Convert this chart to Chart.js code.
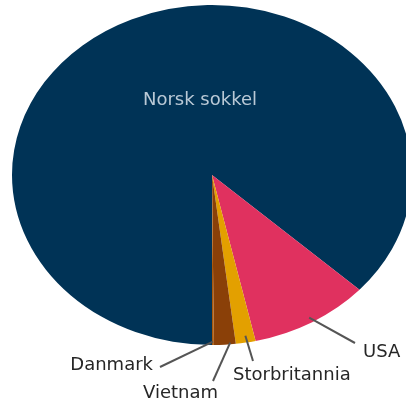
<!DOCTYPE html>
<html>

<head>
    <script src="https://cdn.jsdelivr.net/npm/chart.js@4.4.0/dist/chart.umd.min.js"></script>
    <style>
        html, body { margin: 0; padding: 0; background: #fff; }
        #wrap { width: 406px; height: 406px; }
    </style>
</head>

<body>
    <div id="wrap">
        <canvas id="myChart" width="406" height="406"></canvas>
    </div>
</body>

<script>

    // data
    const categories = ['Norsk sokkel', 'USA', 'Storbritannia', 'Vietnam', 'Danmark']
    const shares = [86.8, 9.7, 1.6, 1.75, 0.15]
    const colors = ['#003356', '#e0315f', '#e3a000', '#8a4008', '#a8580c']

    // label placement (text anchor, leader end, where the leader starts inside the slice)
    const labelLayout = [
        { x: 200, y: 105, align: 'center', color: '#b9c9d6' },
        { x: 363, y: 357, align: 'left', color: '#262626', t: 0.5, r: 0.97, end: [355, 343] },
        { x: 233, y: 380, align: 'left', color: '#262626', t: 0.45, r: 0.96, end: [253, 361] },
        { x: 143, y: 398, align: 'left', color: '#262626', t: 0.25, r: 0.99, end: [213, 381] },
        { x: 153, y: 370, align: 'right', color: '#262626', t: 0.5, r: 0.98, end: [160, 367] }
    ]

    const stretchX = 200 / 170 // the pie is an ellipse, wider than tall

    const stretchPlugin = {
        id: 'stretch',
        beforeDatasetsDraw(chart) {
            const arc = chart.getDatasetMeta(0).data[0]
            const ctx = chart.ctx
            ctx.save()
            ctx.translate(arc.x, 0)
            ctx.scale(stretchX, 1)
            ctx.translate(-arc.x, 0)
        },
        afterDatasetsDraw(chart) {
            chart.ctx.restore()
        }
    }

    const labelPlugin = {
        id: 'sliceLabels',
        afterDraw(chart) {
            const ctx = chart.ctx
            const arcs = chart.getDatasetMeta(0).data
            ctx.save()
            ctx.font = '18px "DejaVu Sans"'
            ctx.textBaseline = 'alphabetic'
            categories.forEach((name, i) => {
                const lay = labelLayout[i]
                if (lay.end) {
                    const a = arcs[i]
                    const ang = a.startAngle + lay.t * (a.endAngle - a.startAngle)
                    const px = a.x + Math.cos(ang) * a.outerRadius * lay.r
                    const py = a.y + Math.sin(ang) * a.outerRadius * lay.r
                    const sx = a.x + (px - a.x) * stretchX
                    ctx.strokeStyle = '#555'
                    ctx.lineWidth = 2
                    ctx.beginPath()
                    ctx.moveTo(sx, py)
                    ctx.lineTo(lay.end[0], lay.end[1])
                    ctx.stroke()
                }
                ctx.fillStyle = lay.color
                ctx.textAlign = lay.align
                ctx.fillText(name, lay.x, lay.y)
            })
            ctx.restore()
        }
    }

    const data = {
        labels: categories,
        datasets: [{
            data: shares,
            backgroundColor: colors,
            borderWidth: 0,
            clip: false
        }]
    }

    const config = {
        type: 'pie',
        data: data,
        options: {
            responsive: false,
            animation: false,
            rotation: 180,
            layout: { padding: { top: 5, bottom: 61, left: 42, right: 24 } },
            plugins: {
                legend: { display: false },
                tooltip: { enabled: false }
            }
        },
        plugins: [stretchPlugin, labelPlugin]
    }

    const myChart = new Chart(document.getElementById('myChart'), config)

</script>

</html>
